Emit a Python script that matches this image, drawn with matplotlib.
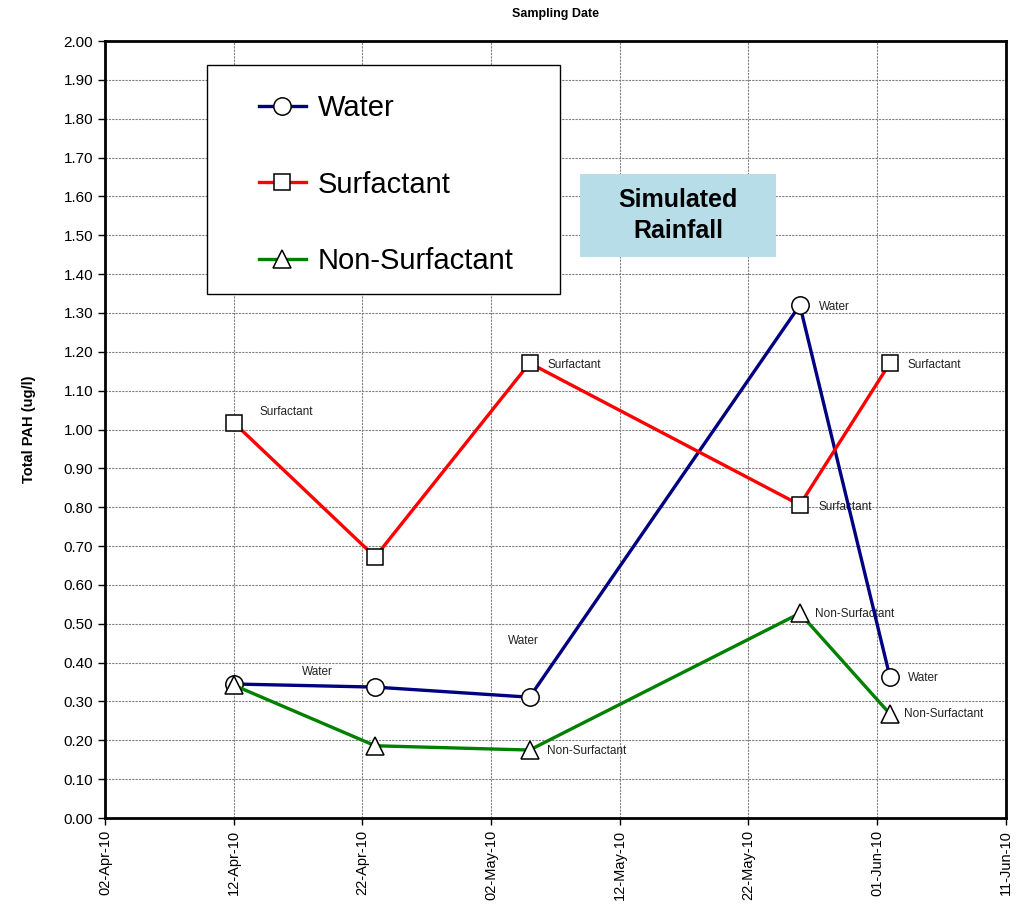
import numpy as np
import matplotlib
matplotlib.use('Agg')
import matplotlib.pyplot as plt
import matplotlib.dates as mdates
from matplotlib.patches import Rectangle
import datetime as dt

plt.rcParams['font.family'] = ['Liberation Sans', 'DejaVu Sans']

dates = ['2010-04-12', '2010-04-23', '2010-05-05', '2010-05-26', '2010-06-02']
water = [0.345, 0.337, 0.311, 1.32, 0.363]
surfactant = [1.018, 0.672, 1.171, 0.806, 1.171]
non_surfactant = [0.342, 0.186, 0.175, 0.527, 0.268]

tick_dates = ['2010-04-02', '2010-04-12', '2010-04-22', '2010-05-02',
              '2010-05-12', '2010-05-22', '2010-06-01', '2010-06-11']

# data labels: (series, point index, text, offset px, ha)
labels = [
    ('surf', 0, 'Surfactant', (26, 11), 'left'),
    ('water', 0, 'Water', (84, 12), 'center'),
    ('water', 2, 'Water', (-6, 56), 'center'),
    ('non', 2, 'Non-Surfactant', (17, -1), 'left'),
    ('surf', 2, 'Surfactant', (18, -2), 'left'),
    ('water', 3, 'Water', (19, -2), 'left'),
    ('surf', 3, 'Surfactant', (19, -2), 'left'),
    ('non', 3, 'Non-Surfactant', (15, -1), 'left'),
    ('surf', 4, 'Surfactant', (18, -2), 'left'),
    ('water', 4, 'Water', (18, -1), 'left'),
    ('non', 4, 'Non-Surfactant', (14, 0), 'left'),
]

x = [dt.datetime.strptime(d, '%Y-%m-%d') for d in dates]
xt = [dt.datetime.strptime(d, '%Y-%m-%d') for d in tick_dates]
series = {'water': water, 'surf': surfactant, 'non': non_surfactant}

fig = plt.figure(figsize=(10.19, 9.08), dpi=100)
ax = fig.add_axes([0.103, 0.0991, 0.884, 0.8557])

l1, = ax.plot(x, water, '-', color='#000080', lw=2.4, marker='o', ms=12.5,
              mfc='white', mec='black', mew=1.1, label='Water', zorder=4)
l2, = ax.plot(x, surfactant, '-', color='#FF0000', lw=2.4, marker='s', ms=11.5,
              mfc='white', mec='black', mew=1.1, label='Surfactant', zorder=4)
l3, = ax.plot(x, non_surfactant, '-', color='#008000', lw=2.4, marker='^', ms=12.5,
              mfc='white', mec='black', mew=1.1, label='Non-Surfactant', zorder=4)

for key, i, txt, off, ha in labels:
    ax.annotate(txt, (x[i], series[key][i]), xytext=off, textcoords='offset pixels',
                ha=ha, va='center', fontsize=8.5, color='#222222', zorder=3)

ax.set_xlim(xt[0], xt[-1])
ax.set_ylim(0, 2.0)
ax.set_xticks(xt)
ax.xaxis.set_major_formatter(mdates.DateFormatter('%d-%b-%y'))
ax.set_yticks(np.arange(0, 2.01, 0.1))
ax.yaxis.set_major_formatter(plt.FormatStrFormatter('%.2f'))
plt.setp(ax.get_xticklabels(), rotation=90, fontsize=10.5)
plt.setp(ax.get_yticklabels(), fontsize=11)
ax.tick_params(direction='out', length=5, width=1)

ax.grid(True, color='#808080', lw=0.8, ls=(0, (2, 1)))
for s in ax.spines.values():
    s.set_linewidth(2)

ax.set_ylabel('Total PAH (ug/l)', fontsize=10.5, fontweight='bold', labelpad=20)
ax.set_title('Sampling Date', fontsize=9, fontweight='bold', pad=17)

# legend box
ax.add_patch(Rectangle((0.1132, 0.674), 0.392, 0.295, transform=ax.transAxes,
                       facecolor='white', edgecolor='black', lw=1, zorder=5))
leg = ax.legend(handles=[l1, l2, l3], loc='upper left', bbox_to_anchor=(0.155, 0.950),
                frameon=False, fontsize=21, handlelength=1.6, labelspacing=1.65,
                handletextpad=0.4, borderpad=0)
leg.set_zorder(6)

# simulated rainfall box
ax.add_patch(Rectangle((0.5272, 0.722), 0.2175, 0.107, transform=ax.transAxes,
                       facecolor='#B7DEE8', edgecolor='none', zorder=5))
ax.text(0.6365, 0.7755, 'Simulated\nRainfall', transform=ax.transAxes, ha='center',
        va='center', fontsize=18, fontweight='bold', linespacing=1.35, zorder=6)

fig.savefig('out.png', dpi=100)
